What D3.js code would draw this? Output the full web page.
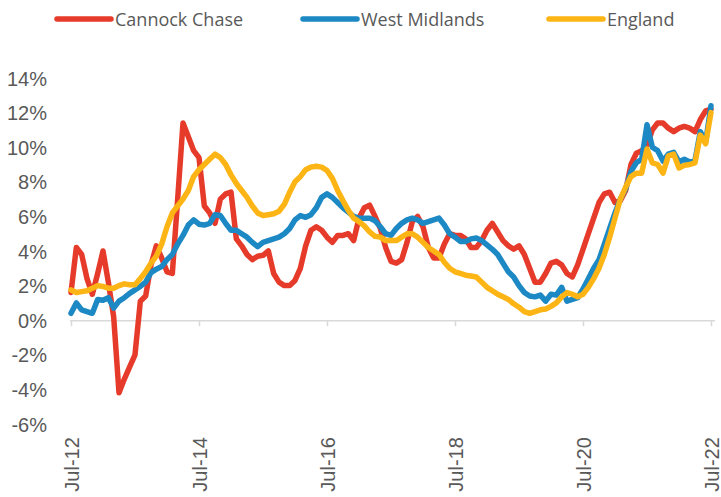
<!DOCTYPE html>
<html><head><meta charset="utf-8">
<script src="https://cdn.jsdelivr.net/npm/d3@7"></script>
<style>
html,body{margin:0;padding:0;background:#fff;}
svg{display:block;font-family:"Open Sans",sans-serif;}
</style></head>
<body><svg id="c" width="721" height="497"></svg>
<script>
// months Jul-12 .. Jul-22 (121 monthly points)
const seriesNames = ["Cannock Chase", "West Midlands", "England"];
const xTickLabels = ["Jul-12", "Jul-14", "Jul-16", "Jul-18", "Jul-20", "Jul-22"];
const yTicks = [-6, -4, -2, 0, 2, 4, 6, 8, 10, 12, 14];

const cannockChase = [
 1.6, 4.2, 3.8, 2.4, 1.5, 2.7, 4.0, 2.2, 0.2, -4.2,
 -3.4, -2.7, -2.0, 1.1, 1.4, 3.2, 4.3, 3.6, 2.8, 2.7,
 7.0, 11.4, 10.6, 9.8, 9.4, 6.6, 6.2, 5.6, 7.0, 7.3,
 7.4, 4.7, 4.3, 3.8, 3.5, 3.7, 3.75, 4.0, 2.7, 2.2,
 2.0, 2.0, 2.3, 3.0, 4.3, 5.2, 5.4, 5.2, 4.8, 4.5,
 4.9, 4.9, 5.0, 4.6, 5.9, 6.5, 6.65, 6.0, 5.3, 4.2,
 3.4, 3.3, 3.5, 4.5, 5.7, 6.0, 5.4, 4.2, 3.6, 3.6,
 4.4, 5.0, 4.9, 4.9, 4.7, 4.2, 4.2, 4.6, 5.2, 5.6,
 5.1, 4.6, 4.3, 4.1, 4.3, 3.8, 3.0, 2.2, 2.2, 2.7,
 3.3, 3.4, 3.2, 2.7, 2.5, 3.2, 4.1, 5.0, 5.9, 6.8,
 7.3, 7.4, 6.8, 6.9, 7.5, 9.0, 9.65, 9.8, 10.1, 11.0,
 11.4, 11.4, 11.1, 10.9, 11.1, 11.2, 11.1, 10.9, 11.6, 12.1,
 12.2
];
const westMidlands = [
 0.4, 1.0, 0.6, 0.5, 0.4, 1.2, 1.15, 1.3, 0.7, 1.1,
 1.3, 1.55, 1.75, 1.95, 2.2, 2.75, 2.95, 3.1, 3.5, 3.8,
 4.4, 4.9, 5.5, 5.8, 5.55, 5.5, 5.6, 6.1, 6.05, 5.6,
 5.2, 5.2, 5.0, 4.8, 4.5, 4.25, 4.5, 4.6, 4.7, 4.8,
 5.0, 5.3, 5.8, 6.05, 5.95, 6.1, 6.5, 7.1, 7.3, 7.1,
 6.8, 6.5, 6.25, 6.0, 5.9, 5.9, 5.9, 5.75, 5.4, 5.0,
 4.9, 5.3, 5.6, 5.8, 5.9, 5.8, 5.6, 5.7, 5.8, 5.9,
 5.5, 5.0, 4.8, 4.55, 4.55, 4.7, 4.75, 4.6, 4.35, 4.1,
 3.8, 3.3, 2.8, 2.5, 2.0, 1.6, 1.4, 1.35, 1.45, 1.1,
 1.5, 1.45, 1.9, 1.1, 1.2, 1.3, 1.8, 2.4, 3.0, 3.5,
 4.4, 5.3, 6.2, 7.0, 7.6, 8.6, 9.1, 9.3, 11.3, 10.0,
 9.8, 9.2, 9.6, 9.7, 9.15, 9.3, 9.15, 9.25, 10.9, 10.3,
 12.4
];
const england = [
 1.75, 1.6, 1.65, 1.7, 1.85, 2.0, 1.95, 1.85, 1.85, 2.0,
 2.1, 2.05, 2.05, 2.4, 2.8, 3.3, 3.7, 4.4, 5.4, 6.2,
 6.6, 7.0, 7.5, 8.3, 8.7, 9.0, 9.3, 9.6, 9.4, 9.0,
 8.4, 7.9, 7.5, 7.1, 6.6, 6.2, 6.05, 6.1, 6.15, 6.3,
 6.7, 7.4, 8.0, 8.3, 8.7, 8.85, 8.9, 8.85, 8.65, 8.2,
 7.5, 6.9, 6.35, 5.9, 5.7, 5.45, 5.1, 4.85, 4.8, 4.6,
 4.6, 4.6, 4.8, 5.0, 5.0, 4.8, 4.5, 4.2, 4.0, 3.8,
 3.35, 3.0, 2.8, 2.7, 2.6, 2.55, 2.5, 2.2, 1.9, 1.7,
 1.5, 1.35, 1.2, 0.95, 0.75, 0.5, 0.4, 0.5, 0.6, 0.65,
 0.8, 1.0, 1.35, 1.6, 1.5, 1.35, 1.5, 1.9, 2.4, 3.0,
 3.8, 4.8, 5.9, 7.0, 7.7, 8.3, 8.5, 8.5, 9.9, 9.1,
 9.0, 8.5, 9.5, 9.6, 8.8, 8.95, 9.0, 9.1, 10.7, 10.2,
 12.0
];
const seriesValues = [cannockChase, westMidlands, england];
const colors = ["#E63B2A", "#1C88C4", "#FDB515"];

const svg = d3.select("#c");
const textColor = "#595959";

const x = d3.scaleLinear().domain([0, 120]).range([71, 711]);
const y = d3.scaleLinear().domain([-6, 14]).range([424, 78]);

// x axis
const xAxis = d3.axisBottom(x)
  .tickValues([0, 24, 48, 72, 96, 120])
  .tickSize(6).tickSizeOuter(0)
  .tickFormat((d, i) => xTickLabels[i]);
const gx = svg.append("g").attr("transform", `translate(0,${y(0)})`).call(xAxis);
gx.select(".domain").attr("stroke", "#D9D9D9").attr("stroke-width", 1.5)
  .attr("d", `M${x(0)-1},0.5H${x(120)+4}`);
gx.selectAll(".tick line").attr("stroke", "#D9D9D9").attr("stroke-width", 1.5);
gx.selectAll(".tick text")
  .attr("fill", textColor).attr("font-size", 20)
  .attr("text-anchor", "end")
  .attr("transform", "rotate(-90)")
  .attr("x", -117)
  .attr("y", 0).attr("dy", "0.35em");

// y axis labels
const yAxis = d3.axisLeft(y).tickValues(yTicks).tickSize(0)
  .tickFormat(d => d + "%");
const gy = svg.append("g").attr("transform", "translate(49,0)").call(yAxis);
gy.select(".domain").remove();
gy.selectAll("text").attr("fill", textColor).attr("font-size", 20).attr("x", -2).attr("dy", "0.35em");

// lines
const line = d3.line().x((d, i) => x(i)).y(d => y(d)).curve(d3.curveLinear);
seriesValues.forEach((vals, k) => {
  svg.append("path").datum(vals)
    .attr("fill", "none").attr("stroke", colors[k])
    .attr("stroke-width", 5.5).attr("stroke-linejoin", "round").attr("stroke-linecap", "round")
    .attr("d", line);
});

// legend
const legendX = [57, 303, 549];
const lg = svg.append("g");
seriesNames.forEach((name, k) => {
  lg.append("line").attr("x1", legendX[k]).attr("x2", legendX[k] + 54)
    .attr("y1", 19).attr("y2", 19)
    .attr("stroke", colors[k]).attr("stroke-width", 5.5).attr("stroke-linecap", "round");
  lg.append("text").attr("x", legendX[k] + 58).attr("y", 20).attr("dy", "0.35em")
    .attr("fill", textColor).attr("font-size", 18).text(name);
});
</script></body></html>
